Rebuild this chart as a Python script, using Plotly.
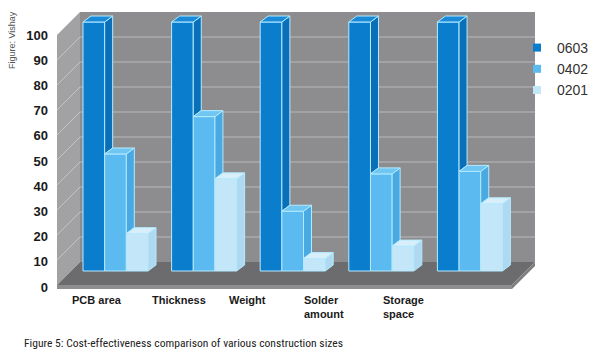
import plotly.graph_objects as go

# ---------------- data ----------------
categories = ["PCB area", "Thickness", "Weight", "Solder<br>amount", "Storage<br>space"]
series_names = ["0603", "0402", "0201"]
v0603 = [100, 100, 100, 100, 100]
v0402 = [47, 62, 24, 39, 40]
v0201 = [15, 37, 5, 10, 27]
y_ticks = [0, 10, 20, 30, 40, 50, 60, 70, 80, 90, 100]
caption = "Figure 5: Cost-effectiveness comparison of various construction sizes"
credit = "Figure: Vishay"

series_values = [v0603, v0402, v0201]
front_colors = ["#0a7dcc", "#5bbaef", "#c4e6f9"]
side_colors = ["#0a6fb9", "#49a9e2", "#aed9f1"]
top_colors = ["#1a8ad8", "#70c6f3", "#d8effb"]
edge = "#b4eaff"

# ---------------- geometry (screen pixels; page body has an 8px margin) ----------------
OFF = 8
W, H = 600 - OFF, 359 - OFF
ML, MR, MT, MB = 44, 55, 0, 56
PX0, PX1 = OFF + ML, OFF + W - MR
PY0, PY1 = OFF + MT, OFF + H - MB
XC0, XSTEP = 115.5, 88.6      # pixel centre of first category, px per category
YB0, YBS = 271.0, 2.49        # bar axis: pixel of 0, px per unit
YT0, YTS = 287.0, 2.52        # tick axis (front plane)


def X(px):
    return (px - XC0) / XSTEP


def Y(py):
    return (YB0 - py) / YBS


def PX(px):
    return (px - PX0) / (PX1 - PX0)


def PY(py):
    return (PY1 - py) / (PY1 - PY0)


bw = 65.0 / 3 / XSTEP
dx = 8.0 / XSTEP
dy = 6.0 / YBS

fig = go.Figure()

# ---------------- walls & floor (decor) ----------------
def path(pts):
    return "M " + " L ".join(f"{X(a):.4f},{Y(b):.4f}" for a, b in pts) + " Z"

shapes = []
shapes.append(dict(type="path", path=path([(80, 12), (535, 12), (535, 262), (80, 262)]),
                   fillcolor="#8d8d8f", line=dict(width=0)))
shapes.append(dict(type="path", path=path([(57, 35), (80, 12), (80, 262), (57, 285)]),
                   fillcolor="#a2a2a4", line=dict(width=0)))
for v in y_ticks[1:-1]:
    yb = 262 - 2.5 * v
    yf = 285 - 2.5 * v
    shapes.append(dict(type="line", x0=X(80), x1=X(535), y0=Y(yb), y1=Y(yb),
                       line=dict(color="#b9b9bb", width=1)))
    shapes.append(dict(type="line", x0=X(57), x1=X(80), y0=Y(yf), y1=Y(yb),
                       line=dict(color="#c4c4c6", width=1)))
shapes.append(dict(type="path", path=path([(80, 262), (535, 262), (512, 285), (57, 285)]),
                   fillcolor="#6c6c6e", line=dict(width=0)))
shapes.append(dict(type="path", path=path([(57, 285), (512, 285), (512, 289), (57, 289)]),
                   fillcolor="#8e8e90", line=dict(width=0)))
shapes.append(dict(type="path", path=path([(512, 285), (535, 262), (535, 266), (512, 289)]),
                   fillcolor="#7e7e80", line=dict(width=0)))
for s in shapes:
    s.update(xref="x", yref="y2", layer="below")

# ---------------- bars ----------------
idx = list(range(len(categories)))
for k, (name, vals) in enumerate(zip(series_names, series_values)):
    off = -1.5 * bw + k * bw
    fig.add_trace(go.Bar(
        x=idx, y=vals, width=bw, offset=off, yaxis="y2",
        marker=dict(color=front_colors[k], line=dict(color=edge, width=1)),
        showlegend=False, name=name, hoverinfo="skip"))

# 3D faces (computed from the values)
for k, (name, vals) in enumerate(zip(series_names, series_values)):
    off = -1.5 * bw + k * bw
    nxt = series_values[k + 1] if k + 1 < len(series_values) else [0] * len(vals)
    tx, ty, sx, sy = [], [], [], []
    for i, v in enumerate(vals):
        xl = i + off
        xr = xl + bw
        tx += [xl, xl + dx, xr + dx, xr, xl, None]
        ty += [v, v + dy, v + dy, v, v, None]
        base = min(nxt[i], v)
        sx += [xr, xr + dx, xr + dx, xr, xr, None]
        sy += [base, base + dy, v + dy, v, base, None]
    fig.add_trace(go.Scatter(x=sx, y=sy, yaxis="y2", mode="lines", fill="toself",
                             fillcolor=side_colors[k], line=dict(color=edge, width=1),
                             showlegend=False, hoverinfo="skip"))
    fig.add_trace(go.Scatter(x=tx, y=ty, yaxis="y2", mode="lines", fill="toself",
                             fillcolor=top_colors[k], line=dict(color=edge, width=1),
                             showlegend=False, hoverinfo="skip"))

# legend entries
for k, name in enumerate(series_names):
    fig.add_trace(go.Scatter(x=[None], y=[None], mode="markers", name=name,
                             marker=dict(symbol="square", size=8, color=front_colors[k])))

# ---------------- annotations ----------------
ann = []
label_left_px = [70, 150, 227, 302, 381]
for lab, lp in zip(categories, label_left_px):
    ann.append(dict(x=X(lp), xref="x", y=PY(292), yref="paper", text=lab,
                    xanchor="left", yanchor="top", align="left", showarrow=False,
                    font=dict(family="Liberation Sans", size=11, color="#1a1a1a", weight="bold")))
ann.append(dict(x=PX(22), xref="paper", y=PY(343), yref="paper", text=caption,
                xanchor="left", yanchor="middle", showarrow=False,
                font=dict(family="Liberation Sans Narrow, Roboto Condensed, Liberation Sans", size=11.6, color="#222222")))
ann.append(dict(x=PX(12), xref="paper", y=PY(40), yref="paper", text=credit, textangle=-90,
                xanchor="center", yanchor="middle", showarrow=False,
                font=dict(family="Liberation Sans", size=9, color="#555555")))

fig.update_layout(
    width=W, height=H,
    margin=dict(l=ML, r=MR, t=MT, b=MB, autoexpand=False),
    paper_bgcolor="white", plot_bgcolor="rgba(0,0,0,0)",
    barmode="overlay",
    shapes=shapes, annotations=ann,
    xaxis=dict(range=[X(PX0), X(PX1)], visible=False, fixedrange=True),
    yaxis=dict(range=[(YT0 - PY1) / YTS, (YT0 - PY0) / YTS], tickvals=y_ticks,
               showgrid=False, zeroline=False, showline=False, ticks="",
               ticklabelstandoff=3,
               tickfont=dict(family="Liberation Sans", size=13, color="#1a1a1a", weight="bold")),
    yaxis2=dict(range=[Y(PY1), Y(PY0)], overlaying="y", visible=False),
    legend=dict(x=PX(517), y=PY(32), xanchor="left", yanchor="top",
                font=dict(family="Liberation Sans", size=14, color="#333333"),
                bgcolor="rgba(0,0,0,0)", tracegroupgap=0, itemwidth=30),
    showlegend=True,
)

fig.write_html("out.html")
